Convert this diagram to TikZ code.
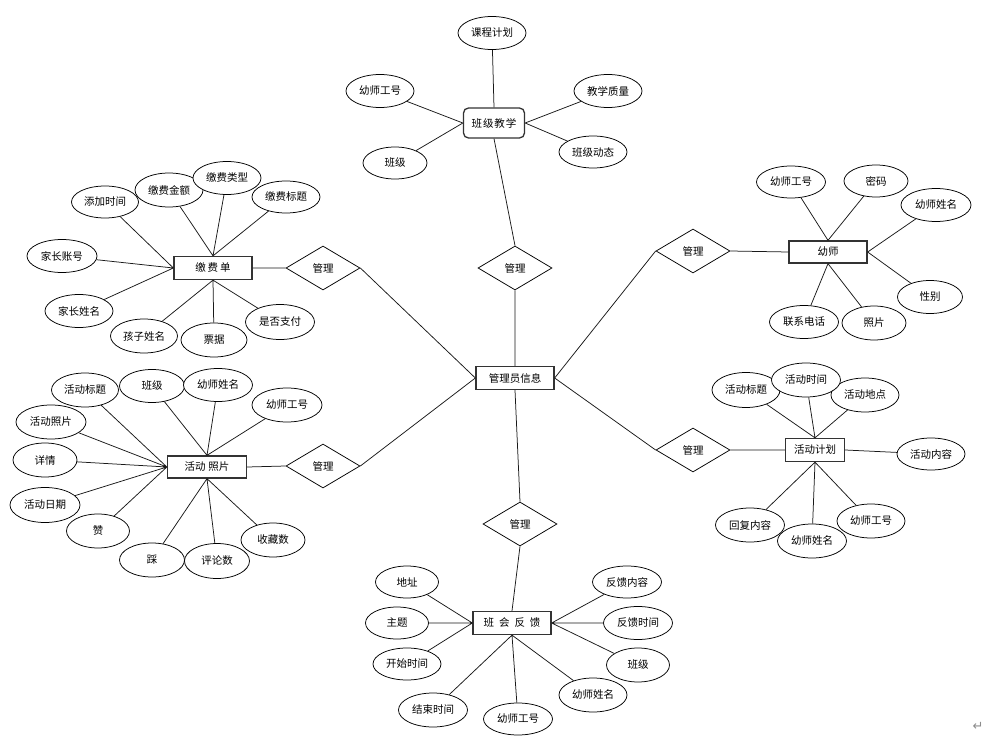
\documentclass[tikz,border=0pt]{standalone}
\usepackage{fontspec}
\setmainfont{Noto Sans CJK SC}
\newfontfamily\dejavu{DejaVu Sans}
\usetikzlibrary{shapes.geometric}
\newcommand\kk[1]{\kern#1pt}
\begin{document}
\begin{tikzpicture}[x=1pt,y=-1pt,
  every node/.style={font=\fontsize{10.5}{12}\selectfont},
  attr/.style={ellipse, draw=black, fill=white, line width=0.75pt, minimum width=68, minimum height=33, inner sep=0pt},
  ent/.style={rectangle, draw=black!80, fill=white, line width=1.3pt, minimum width=78, minimum height=23, inner sep=0pt},
  rel/.style={diamond, draw=black, fill=white, line width=0.75pt, minimum width=74, minimum height=44, inner sep=0pt},
  conn/.style={draw=black!90, line width=0.75pt}]
\useasboundingbox (0,0) rectangle (1005,749);
\fill[white] (0,0) rectangle (1005,749);

% central entity and relations
\node[ent] (admin) at (515,378) {管理员信息};
\node[rel] (r1) at (515,268) {管理};
\node[rel] (r2) at (323,268) {管理};
\node[rel] (r3) at (323,466) {管理};
\node[rel] (r4) at (693,251) {管理};
\node[rel] (r5) at (693,450) {管理};
\node[rel] (r6) at (520,524) {管理};

% top: 班级教学
\node[ent, rounded corners=5pt, minimum width=61, minimum height=30] (bjjx) at (494,123) {班\kk1级\kk1教\kk1学};
\node[attr] (kc) at (492,33) {课程计划};
\node[attr] (tgh) at (380,91) {幼师工号};
\node[attr] (jxzl) at (608,91) {教学质量};
\node[attr, minimum width=64, minimum height=32] (bj1) at (395,163) {班级};
\node[attr, minimum height=32] (bjdt) at (593,152) {班级动态};

% left top: 缴费单
\node[ent] (jfd) at (213,268) {缴\kk2费\kk2单};
\node[attr, minimum width=67, minimum height=32] (tjsj) at (105,202) {添加时间};
\node[attr, minimum height=34] (jfje) at (169,190) {缴费金额};
\node[attr] (jflx) at (227,178) {缴费类型};
\node[attr, minimum height=32] (jfbt) at (286,197) {缴费标题};
\node[attr, minimum width=70] (jzzh) at (62,256) {家长账号};
\node[attr] (jzxm) at (79,311) {家长姓名};
\node[attr, minimum width=67, minimum height=34] (hzxm) at (144,336) {孩子姓名};
\node[attr, minimum width=66, minimum height=34] (pj) at (214,340) {票据};
\node[attr, minimum width=69, minimum height=35] (sfzf) at (280,322) {是否支付};

% left bottom: 活动照片
\node[ent, minimum width=79, minimum height=22] (hdzp) at (207,467) {活动\kk3照片};
\node[attr, minimum width=67, minimum height=34] (hdbt) at (85,390) {活动标题};
\node[attr, minimum width=65] (bj2) at (152,386) {班级};
\node[attr, minimum width=69] (ysxm1) at (218,385) {幼师姓名};
\node[attr, minimum width=70, minimum height=34] (ysgh1) at (287,405) {幼师工号};
\node[attr, minimum width=70, minimum height=34] (hdzpa) at (51,422) {活动照片};
\node[attr, minimum width=64, minimum height=34] (xq) at (45,460) {详情};
\node[attr, minimum width=70, minimum height=35] (hdrq) at (45,505) {活动日期};
\node[attr, minimum width=63, minimum height=34] (zan) at (98,531) {赞};
\node[attr, minimum width=65, minimum height=34] (cai) at (152,560) {踩};
\node[attr, minimum width=65, minimum height=35] (pls) at (217,561) {评论数};
\node[attr, minimum width=64, minimum height=34] (scs) at (273,540) {收藏数};

% right top: 幼师
\node[ent, minimum height=22] (ys) at (828,252) {幼师};
\node[attr, minimum width=69, minimum height=32] (ysgh2) at (791,182) {幼师工号};
\node[attr, minimum width=64, minimum height=32] (mm) at (876,181) {密码};
\node[attr, minimum width=70] (ysxm2) at (936,205) {幼师姓名};
\node[attr, minimum width=65] (xb) at (930,297) {性别};
\node[attr, minimum width=69] (lxdh) at (804,322) {联系电话};
\node[attr, minimum width=64, minimum height=34] (zp) at (874,323) {照片};

% right bottom: 活动计划
\node[ent, minimum width=59] (hdjh) at (815,450) {活动计划};
\node[attr, minimum height=35] (hdbt2) at (746,390) {活动标题};
\node[attr, minimum height=34] (hddd) at (865,395) {活动地点};
\node[attr, minimum width=69, minimum height=34] (hdsj) at (806,380) {活动时间};
\node[attr, minimum height=32] (hdnr) at (931,454) {活动内容};
\node[attr, minimum width=69, minimum height=34] (hfnr) at (750,525) {回复内容};
\node[attr, minimum height=34] (ysgh3) at (871,521) {幼师工号};
\node[attr, minimum width=69, minimum height=34] (ysxm3) at (812,541) {幼师姓名};

% bottom: 班会反馈
\node[ent] (bhfk) at (512,623) {班\kk5会\kk5反\kk5馈};
\node[attr, minimum width=63, minimum height=32] (dz) at (407,582) {地址};
\node[attr, minimum width=63, minimum height=32] (zt) at (397,623) {主题};
\node[attr, minimum height=32] (kssj) at (407,664) {开始时间};
\node[attr, minimum width=69, minimum height=34] (jssj) at (433,710) {结束时间};
\node[attr, minimum width=69, minimum height=32] (ysgh4) at (518,719) {幼师工号};
\node[attr, minimum height=34] (ysxm4) at (593,695) {幼师姓名};
\node[attr, minimum width=69, minimum height=32] (fknr) at (627,582) {反馈内容};
\node[attr, minimum width=69] (fksj) at (638,623) {反馈时间};
\node[attr, minimum width=63, minimum height=34] (bj3) at (638,665) {班级};

\node[text=black!45, font=\dejavu\fontsize{13}{13}\selectfont] (ret) at (978,726) {↵};

% connectors
\path[conn]
  (admin.north) -- (r1.south)
  (admin.west) -- (r2.east)
  (admin.west) -- (r3.east)
  (admin.east) -- (r4.west)
  (admin.east) -- (r5.west)
  (admin.south) -- (r6.north)
  (bjjx.south) -- (r1.north)
  (kc) -- (bjjx.north)
  (tgh) -- (bjjx.west)
  (bj1) -- (bjjx.west)
  (jxzl) -- (bjjx.east)
  (bjdt) -- (bjjx.east)
  (jfd.east) -- (r2.west)
  (tjsj) -- (jfd.west)
  (jzzh) -- (jfd.west)
  (jzxm) -- (jfd.west)
  (jfje) -- (jfd.north)
  (jflx) -- (jfd.north)
  (jfbt) -- (jfd.north)
  (hzxm) -- (jfd.south)
  (pj) -- (jfd.south)
  (sfzf) -- (jfd.south)
  (hdzp.east) -- (r3.west)
  (hdbt) -- (hdzp.west)
  (hdzpa) -- (hdzp.west)
  (xq) -- (hdzp.west)
  (hdrq) -- (hdzp.west)
  (zan) -- (hdzp.west)
  (bj2) -- (hdzp.north)
  (ysxm1) -- (hdzp.north)
  (ysgh1) -- (hdzp.north)
  (cai) -- (hdzp.south)
  (pls) -- (hdzp.south)
  (scs) -- (hdzp.south)
  (r4.east) -- (ys.west)
  (ysgh2) -- (ys.north)
  (mm) -- (ys.north)
  (ysxm2) -- (ys.east)
  (xb) -- (ys.east)
  (lxdh) -- (ys.south)
  (zp) -- (ys.south)
  (r5.east) -- (hdjh.west)
  (hdbt2) -- (hdjh.north)
  (hdsj) -- (hdjh.north)
  (hddd) -- (hdjh.north)
  (hdnr) -- (hdjh.east)
  (hfnr) -- (hdjh.south)
  (ysxm3) -- (hdjh.south)
  (ysgh3) -- (hdjh.south)
  (r6.south) -- (bhfk.north)
  (dz) -- (bhfk.west)
  (zt) -- (bhfk.west)
  (kssj) -- (bhfk.west)
  (jssj) -- (bhfk.south)
  (ysgh4) -- (bhfk.south)
  (ysxm4) -- (bhfk.south)
  (fknr) -- (bhfk.east)
  (fksj) -- (bhfk.east)
  (bj3) -- (bhfk.east);
\end{tikzpicture}
\end{document}
